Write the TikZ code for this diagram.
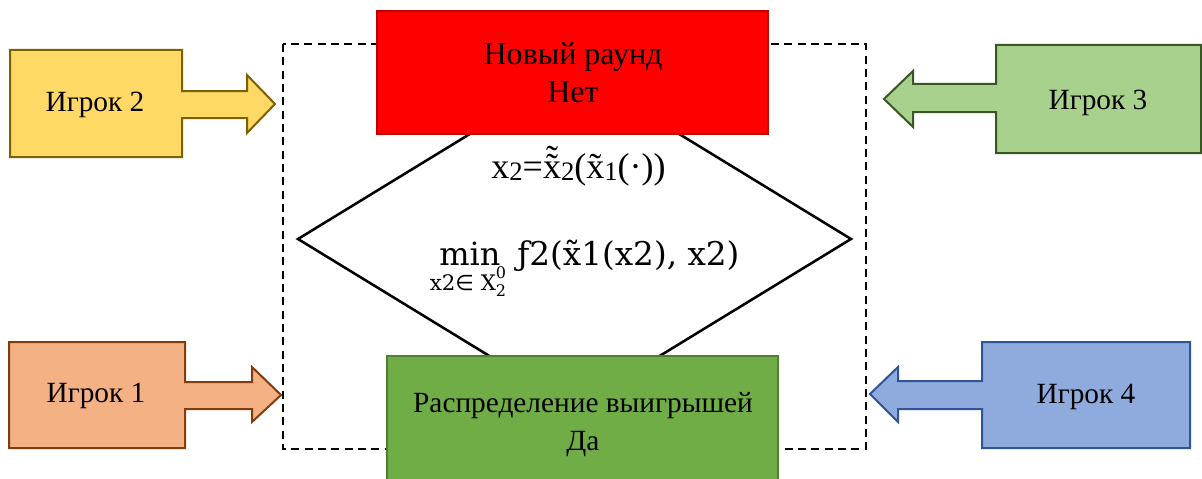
\documentclass[tikz,border=0pt]{standalone}
\usepackage{fontspec}
\setmainfont{Liberation Serif}
\newfontfamily\dvserif{DejaVu Serif}
\newfontfamily\dvsans{DejaVu Sans}
\definecolor{yfill}{HTML}{FFD966}\definecolor{ydraw}{HTML}{7F6000}
\definecolor{gfill}{HTML}{A9D18E}\definecolor{gdraw}{HTML}{385723}
\definecolor{ofill}{HTML}{F4B183}\definecolor{odraw}{HTML}{843C0C}
\definecolor{bfill}{HTML}{8FAADC}\definecolor{bdraw}{HTML}{2F5597}
\definecolor{rfill}{HTML}{FF0000}\definecolor{rdraw}{HTML}{C00000}
\definecolor{dgfill}{HTML}{70AD47}\definecolor{dgdraw}{HTML}{507E32}
\newcommand\tld[2][0pt]{\leavevmode\setbox0\hbox{#2}\rlap{\hbox to\wd0{\hss\raisebox{#1}{˜}\hss}}#2}
\newcommand\sbs[1]{\raisebox{-0.08em}{\fontsize{20}{20}\selectfont #1}}
\begin{document}
\begin{tikzpicture}[x=0.75pt,y=-0.75pt,
  lbl/.style={font=\fontsize{22}{28.5}\selectfont, align=center, inner sep=0pt},
  blk/.style={line width=1.5pt, line join=miter},
  frame/.style={dashed, dash pattern=on 6pt off 4pt, line width=1.8pt},
  dmd/.style={line width=1.9pt, line join=miter}]
\clip (0,0) rectangle (1202,478);
\fill[white] (0,0) rectangle (1202,478);
% dashed frame
\draw[frame] (283,44) rectangle (866,449);
% decision diamond
\coordinate (dl) at (298,239);
\coordinate (dt) at (574.5,70);
\coordinate (dr) at (851,239);
\coordinate (db) at (574.5,408);
\draw[dmd] (dl) -- (dt) -- (dr) -- (db) -- cycle;
% red box
\draw[blk, line width=1.2pt, draw=rdraw, fill=rfill] (377,11) rectangle (768,134);
\node[lbl, font=\fontsize{24}{28.5}\selectfont] (newround) at (573,73) {Новый раунд\\Нет};
% green box
\draw[blk, line width=1.2pt, draw=dgdraw, fill=dgfill] (387,356) rectangle (778,500);
\node[lbl] (payout) at (583,425) {Распределение выигрышей\\Да};
% Player 2
\draw[blk, draw=ydraw, fill=yfill] (10,50) -- (182,50) -- (182,91) -- (247,91) -- (247,75) -- (275,104) -- (247,133) -- (247,118) -- (182,118) -- (182,157) -- (10,157) -- cycle;
\node[lbl] (p2) at (95,105) {Игрок 2};
% Player 1
\draw[blk, draw=odraw, fill=ofill] (9,342) -- (185,342) -- (185,382) -- (252,382) -- (252,367) -- (281,395) -- (252,422) -- (252,409) -- (185,409) -- (185,448) -- (9,448) -- cycle;
\node[lbl] (p1) at (96,396) {Игрок 1};
% Player 3
\draw[blk, draw=gdraw, fill=gfill] (1201,45) -- (996,45) -- (996,84) -- (913,84) -- (913,71) -- (884,99) -- (913,127) -- (913,112) -- (996,112) -- (996,153) -- (1201,153) -- cycle;
\node[lbl] (p3) at (1098,103) {Игрок 3};
% Player 4
\draw[blk, draw=bdraw, fill=bfill] (1190,342) -- (982,342) -- (982,381) -- (898,381) -- (898,367) -- (870,394) -- (898,422) -- (898,409) -- (982,409) -- (982,448) -- (1190,448) -- cycle;
\node[lbl] (p4) at (1086,397) {Игрок 4};
% formulas
\node[anchor=base, inner sep=0pt, font=\fontsize{27}{30}\selectfont] (f1) at (578.5,178)
  {x\sbs{2}=\tld[0.2em]{\tld{x}}\sbs{2}(\tld{x}\sbs{1}(·))};
\node[anchor=base, inner sep=0pt, font=\dvserif\fontsize{24}{26}\selectfont] (fmin) at (470,265) {min};
\node[anchor=base, inner sep=0pt, font=\dvserif\fontsize{16}{18}\selectfont] (fsub) at (468,290)
  {x2{\dvsans∈} X\rlap{\raisebox{0.55em}{\fontsize{12}{12}\selectfont 0}}\raisebox{-0.3em}{\fontsize{12}{12}\selectfont 2}};
\node[anchor=base west, inner sep=0pt, font=\dvserif\fontsize{24.5}{26}\selectfont] (fobj) at (517,265)
  {ƒ2(\tld{x}1(x2), x2)};
\end{tikzpicture}
\end{document}
